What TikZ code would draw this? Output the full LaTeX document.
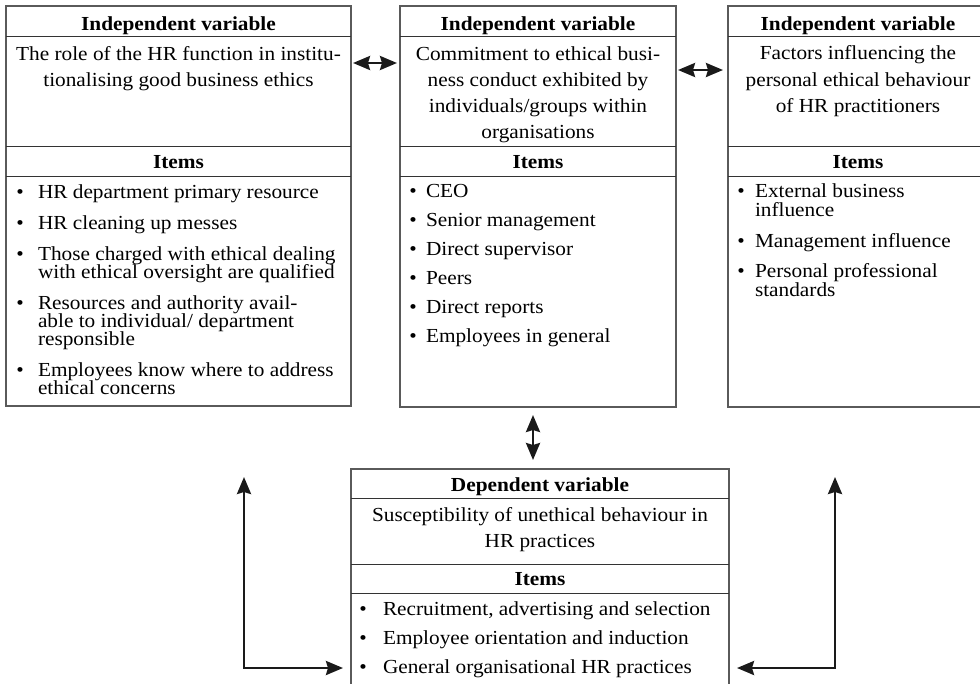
\documentclass[tikz,border=0pt]{standalone}
\usepackage{fontspec}
\setmainfont{Liberation Serif}[FakeStretch=1.07]
\usetikzlibrary{arrows.meta}
\definecolor{boxline}{HTML}{5A5A5A}
\definecolor{divline}{HTML}{333333}
\definecolor{arrcol}{HTML}{1A1A1A}
\begin{document}
\begin{tikzpicture}[x=1pt,y=-1pt,
  every node/.style={font=\fontsize{19.9}{26}\selectfont, inner sep=0pt, outer sep=0pt},
  box/.style={draw=boxline, line width=1.1pt, anchor=north west, rectangle},
  divl/.style={draw=divline, line width=1pt},
  hdr/.style={anchor=base, font=\fontsize{19.9}{26}\selectfont\bfseries},
  txt/.style={anchor=base},
  itm/.style={anchor=base west},
  bul/.style={anchor=base},
  arr/.style={draw=arrcol, line width=2.6pt, {Stealth[length=17pt,width=14pt,inset=2pt]}-{Stealth[length=17pt,width=14pt,inset=2pt]}}
]
\useasboundingbox (0,0) rectangle (980,683);
\fill[white] (0,0) rectangle (980,683);
\clip (0,0) rectangle (980,683);

% ---------- boxes ----------
\node[box, minimum width=345pt, minimum height=400pt] (L) at (6,6) {};
\node[box, minimum width=276pt, minimum height=401pt] (M) at (400,6) {};
\node[box, minimum width=260pt, minimum height=401pt] (R) at (728,6) {};
\node[box, minimum width=378pt, minimum height=240pt] (D) at (351,469) {};

% ---------- dividers ----------
\foreach \b in {L,M,R}{
  \foreach \d in {30,140,170}{
    \draw[divl] ([yshift=-\d pt]\b.north west) -- ([yshift=-\d pt]\b.north east);
  }
}
\foreach \d in {29,95,124}{
  \draw[divl] ([yshift=-\d pt]D.north west) -- ([yshift=-\d pt]D.north east);
}

% ---------- left box ----------
\node[hdr] (Lh) at (178.5,30) {Independent variable};
\node[txt] (Ld1) at (178.5,60) {The role of the HR function in institu-};
\node[txt] (Ld2) at (178.5,86) {tionalising good business ethics};
\node[hdr] (Li) at (178.5,168) {Items};
\node[bul] (Lb1) at (20,198) {•};
\node[itm] (Lt1) at (38,198) {HR department primary resource};
\node[bul] (Lb2) at (20,229) {•};
\node[itm] (Lt2) at (38,229) {HR cleaning up messes};
\node[bul] (Lb3) at (20,260) {•};
\node[itm] (Lt3a) at (38,260) {Those charged with ethical dealing};
\node[itm] (Lt3b) at (38,278) {with ethical oversight are qualified};
\node[bul] (Lb4) at (20,309) {•};
\node[itm] (Lt4a) at (38,309) {Resources and authority avail-};
\node[itm] (Lt4b) at (38,327) {able to individual/ department};
\node[itm] (Lt4c) at (38,345) {responsible};
\node[bul] (Lb5) at (20,376) {•};
\node[itm] (Lt5a) at (38,376) {Employees know where to address};
\node[itm] (Lt5b) at (38,394) {ethical concerns};

% ---------- middle box ----------
\node[hdr] (Mh) at (538,30) {Independent variable};
\node[txt] (Md1) at (538,60) {Commitment to ethical busi-};
\node[txt] (Md2) at (538,86) {ness conduct exhibited by};
\node[txt] (Md3) at (538,112) {individuals/groups within};
\node[txt] (Md4) at (538,138) {organisations};
\node[hdr] (Mi) at (538,168) {Items};
\node[bul] (Mb1) at (413,197) {•};
\node[itm] (Mt1) at (426,197) {CEO};
\node[bul] (Mb2) at (413,226) {•};
\node[itm] (Mt2) at (426,226) {Senior management};
\node[bul] (Mb3) at (413,255) {•};
\node[itm] (Mt3) at (426,255) {Direct supervisor};
\node[bul] (Mb4) at (413,284) {•};
\node[itm] (Mt4) at (426,284) {Peers};
\node[bul] (Mb5) at (413,313) {•};
\node[itm] (Mt5) at (426,313) {Direct reports};
\node[bul] (Mb6) at (413,342) {•};
\node[itm] (Mt6) at (426,342) {Employees in general};

% ---------- right box ----------
\node[hdr] (Rh) at (858,30) {Independent variable};
\node[txt] (Rd1) at (858,59) {Factors influencing the};
\node[txt] (Rd2) at (858,86) {personal ethical behaviour};
\node[txt] (Rd3) at (858,112) {of HR practitioners};
\node[hdr] (Ri) at (858,168) {Items};
\node[bul] (Rb1) at (741,197) {•};
\node[itm] (Rt1a) at (755,197) {External business};
\node[itm] (Rt1b) at (755,216) {influence};
\node[bul] (Rb2) at (741,247) {•};
\node[itm] (Rt2) at (755,247) {Management influence};
\node[bul] (Rb3) at (741,277) {•};
\node[itm] (Rt3a) at (755,277) {Personal professional};
\node[itm] (Rt3b) at (755,296) {standards};

% ---------- bottom box ----------
\node[hdr] (Dh) at (540,491) {Dependent variable};
\node[txt] (Dd1) at (540,521) {Susceptibility of unethical behaviour in};
\node[txt] (Dd2) at (540,547) {HR practices};
\node[hdr] (Di) at (540,585) {Items};
\node[bul] (Db1) at (363,615) {•};
\node[itm] (Dt1) at (383,615) {Recruitment, advertising and selection};
\node[bul] (Db2) at (363,644) {•};
\node[itm] (Dt2) at (383,644) {Employee orientation and induction};
\node[bul] (Db3) at (363,673) {•};
\node[itm] (Dt3) at (383,673) {General organisational HR practices};

% ---------- connectors ----------
\draw[arr] ([xshift=2pt,yshift=-57pt]L.north east) -- ([xshift=-3pt,yshift=-57pt]M.north west);
\draw[arr] ([xshift=2pt,yshift=-64pt]M.north east) -- ([xshift=-5pt,yshift=-64pt]R.north west);
\draw[arr] ([xshift=-5pt,yshift=-8pt]M.south) -- ([xshift=-7pt,yshift=9pt]D.north);
\coordinate (lt) at (244,477);
\coordinate (rt) at (835,477);
\draw[arr] (lt) |- ([xshift=-8pt,yshift=-199pt]D.north west);
\draw[arr] (rt) |- ([xshift=8pt,yshift=-199pt]D.north east);
\end{tikzpicture}
\end{document}
